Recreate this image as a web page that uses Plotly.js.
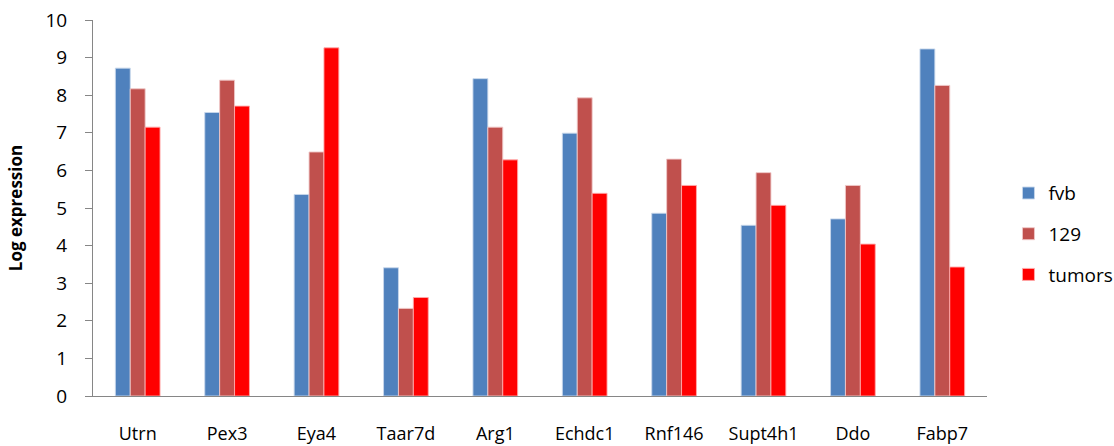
<!DOCTYPE html>
<html>
<head>
<meta charset="utf-8">
<script src="https://cdn.plot.ly/plotly-3.0.1.min.js"></script>
<style>html,body{margin:0;padding:0;background:#fff;}#chart{width:1114px;height:446px;}</style>
</head>
<body>
<div id="chart"></div>
<script>
const genes = ["Utrn","Pex3","Eya4","Taar7d","Arg1","Echdc1","Rnf146","Supt4h1","Ddo","Fabp7"];
const fvb    = [8.72, 7.54, 5.36, 3.41, 8.44, 6.99, 4.86, 4.54, 4.71, 9.23];
const s129   = [8.17, 8.40, 6.49, 2.33, 7.15, 7.93, 6.30, 5.94, 5.60, 8.26];
const tumors = [7.15, 7.71, 9.26, 2.62, 6.28, 5.39, 5.60, 5.07, 4.04, 3.43];
const yTicks = [0,1,2,3,4,5,6,7,8,9,10];

const font = "Open Sans, Noto Sans, sans-serif";
function tr(name, y, color, edge, g){
  return {type:"bar", name:name, x:genes, y:y, legendgroup:g,
    marker:{color:color, line:{color:edge, width:1}}, hoverinfo:"x+y"};
}
const data = [
  tr("fvb", fvb, "#4F81BD", "rgba(200,215,235,0.9)", "a"),
  tr("129", s129, "#C0504D", "rgba(240,200,200,0.9)", "b"),
  tr("tumors", tumors, "#FF0000", "rgba(255,170,170,0.9)", "c")
];
const layout = {
  width:1114, height:446,
  margin:{l:93, r:127, t:20, b:50, pad:0, autoexpand:false},
  paper_bgcolor:"#fff", plot_bgcolor:"#fff",
  barmode:"group", bargap:0.5, bargroupgap:0,
  font:{family:font, size:18, color:"#000"},
  showlegend:true,
  legend:{x:1.024, y:0.59, xanchor:"left", yanchor:"top", tracegroupgap:13,
    font:{family:font, size:19, color:"#000"}, itemwidth:30},
  xaxis:{type:"category", showline:true, linecolor:"#868686", linewidth:1,
    ticks:"", showgrid:false, zeroline:false, ticklabelstandoff:21,
    tickfont:{family:font, size:18, color:"#000"}},
  yaxis:{range:[0,10], tickvals:yTicks, ticktext:yTicks.map(String),
    showline:true, linecolor:"#868686", linewidth:1, ticks:"outside", ticklen:7,
    tickcolor:"#868686", showgrid:false, zeroline:false, ticklabelstandoff:14,
    tickfont:{family:font, size:19, color:"#000"},
    title:{text:"<b>Log expression</b>", standoff:18, font:{family:font, size:17, color:"#000"}}}
};
Plotly.newPlot("chart", data, layout, {displayModeBar:false, staticPlot:true});
</script>
</body>
</html>
